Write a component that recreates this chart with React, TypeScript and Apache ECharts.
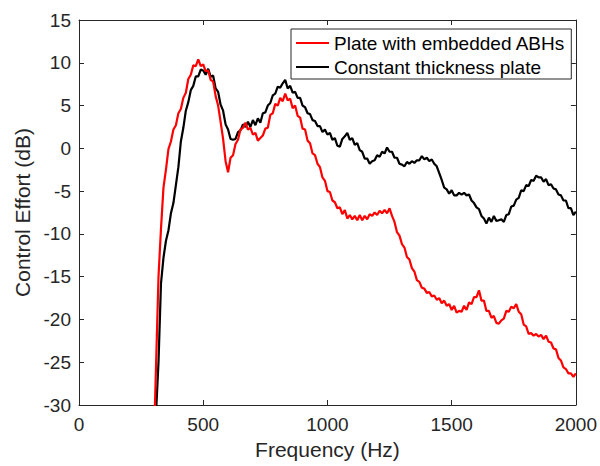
import React, { useEffect, useRef } from "react";
import * as echarts from "echarts";

const freqStart = 300;
const freqStep = 10;

// Control effort (dB), sampled every 10 Hz from 300 Hz to 2000 Hz
const abhPlate: number[] = [
  -36, -25.5, -15.0, -9.4, -4.6, -2.5, -0.1, 0.8, 2.2, 2.7,
  4.1, 4.6, 5.9, 6.5, 8.1, 8.6, 9.7, 9.6, 10.4, 9.6,
  9.8, 9.0, 9.1, 8.0, 7.8, 6.1, 5.0, 3.1, 1.1, -1.5,
  -2.8, -1.1, -0.8, 0.5, 1.0, 2.2, 2.4, 3.0, 2.2, 2.4,
  1.6, 1.8, 0.9, 1.2, 1.5, 2.3, 2.4, 3.9, 4.1, 5.2,
  5.0, 5.9, 5.5, 6.4, 5.6, 5.8, 4.7, 5.0, 3.8, 3.6,
  2.3, 2.2, 0.9, 0.6, -0.6, -0.8, -1.8, -2.2, -3.4, -3.8,
  -5.0, -5.1, -6.1, -6.3, -7.0, -6.9, -7.7, -7.2, -8.2, -7.8,
  -8.3, -7.9, -8.4, -7.8, -8.4, -7.9, -8.3, -7.7, -7.9, -7.5,
  -7.8, -7.3, -7.6, -7.2, -7.6, -7.0, -7.9, -8.6, -9.8, -10.2,
  -11.2, -11.6, -12.7, -13.0, -14.0, -14.4, -15.4, -15.6, -16.3, -16.4,
  -16.9, -16.8, -17.3, -17.2, -17.7, -17.5, -18.1, -17.8, -18.4, -18.2,
  -18.9, -18.4, -19.2, -19.0, -19.1, -18.4, -18.9, -18.0, -18.2, -17.4,
  -17.4, -16.6, -17.8, -17.8, -19.0, -19.0, -19.8, -19.6, -20.4, -20.5,
  -20.1, -19.9, -19.0, -19.1, -18.5, -18.7, -18.2, -19.1, -19.4, -20.6,
  -20.8, -21.7, -21.6, -21.9, -21.7, -22.0, -21.8, -22.3, -21.9, -22.6,
  -22.7, -23.4, -23.5, -24.5, -24.8, -25.6, -25.8, -26.3, -26.3, -26.7,
  -26.3,
];

const constantPlate: number[] = [
  -36, -31, -25, -15.8, -12.8, -10.8, -9.6, -7.6, -6.4, -4.3,
  -2.2, 0.8, 2.4, 4.4, 5.4, 6.8, 7.3, 8.4, 8.4, 9.2,
  9.1, 8.6, 9.3, 8.4, 8.5, 7.0, 6.6, 5.1, 4.4, 2.8,
  2.2, 1.1, 1.0, 1.1, 1.9, 2.1, 2.8, 2.5, 3.1, 2.5,
  3.3, 2.7, 3.5, 3.0, 4.1, 4.2, 5.0, 5.3, 6.2, 6.4,
  7.2, 7.1, 7.6, 8.0, 7.0, 7.3, 6.5, 6.6, 5.9, 5.9,
  5.0, 4.8, 4.1, 4.0, 3.3, 3.2, 2.6, 2.6, 1.9, 2.2,
  1.6, 1.8, 1.0, 1.2, 0.3, 0.2, 1.1, 1.4, 1.8, 1.0,
  1.2, 0.4, 0.6, -0.2, -0.4, -1.2, -1.2, -1.8, -1.5, -1.4,
  -0.8, -1.0, -0.4, -0.6, 0.1, -0.4, -0.4, -1.1, -1.1, -1.8,
  -1.9, -2.1, -1.6, -1.8, -1.5, -1.7, -1.4, -1.4, -0.9, -1.3,
  -1.1, -1.5, -1.3, -1.8, -2.1, -2.9, -3.7, -4.6, -4.8, -5.3,
  -4.9, -5.5, -5.5, -5.2, -5.4, -5.2, -5.5, -5.4, -6.1, -6.4,
  -6.9, -7.1, -7.9, -8.2, -8.8, -8.1, -8.6, -7.9, -8.5, -8.4,
  -8.3, -8.6, -7.8, -7.7, -6.8, -6.7, -6.0, -5.8, -4.9, -5.0,
  -4.3, -4.4, -3.7, -3.8, -3.2, -3.4, -3.4, -3.9, -3.6, -4.3,
  -4.2, -4.7, -4.8, -5.4, -5.5, -6.1, -6.1, -7.0, -7.0, -7.8,
  -7.4,
];

const seriesNames = ["Plate with embedded ABHs", "Constant thickness plate"];
const xTicks = { min: 0, max: 2000, interval: 500 };
const yTicks = { min: -30, max: 15, interval: 5 };

const FONT = "'Liberation Sans', Arial, Helvetica, sans-serif";
const AX = "#262626";

function toPairs(vals: number[]): [number, number][] {
  return vals.map((v, i) => [freqStart + i * freqStep, v]);
}

export default function App() {
  const ref = useRef<HTMLDivElement>(null);
  useEffect(() => {
    if (!ref.current) return;
    const chart = echarts.init(ref.current, undefined, { renderer: "svg" });
    const axisCommon = {
      axisLine: { show: true, onZero: false, lineStyle: { color: AX, width: 1 } },
      axisTick: { show: true, inside: true, length: 5, lineStyle: { color: AX } },
      splitLine: { show: false },
    };
    const plain = (v: number) => String(v);
    chart.setOption({
      animation: false,
      backgroundColor: "#ffffff",
      grid: { left: 79, right: 23, top: 20, bottom: 61, containLabel: false },
      legend: {
        data: seriesNames,
        orient: "vertical",
        left: 291,
        top: 29,
        padding: [3, 6, 1, 5],
        itemGap: 2,
        itemWidth: 33,
        itemHeight: 2,
        icon: "rect",
        backgroundColor: "#ffffff",
        borderColor: AX,
        borderWidth: 1,
        textStyle: { fontFamily: FONT, fontSize: 19, color: "#000", lineHeight: 22 },
      },
      xAxis: [
        {
          type: "value",
          ...xTicks,
          position: "bottom",
          ...axisCommon,
          axisLabel: { show: true, fontFamily: FONT, fontSize: 19, color: AX, margin: 10, formatter: plain },
          name: "Frequency (Hz)",
          nameLocation: "middle",
          nameGap: 32,
          nameTextStyle: { fontFamily: FONT, fontSize: 21, color: AX },
        },
        {
          type: "value",
          ...xTicks,
          position: "top",
          ...axisCommon,
          axisLabel: { show: false },
        },
      ],
      yAxis: [
        {
          type: "value",
          ...yTicks,
          position: "left",
          ...axisCommon,
          axisLabel: { show: true, fontFamily: FONT, fontSize: 19, color: AX, margin: 8, formatter: plain },
          name: "Control Effort (dB)",
          nameLocation: "middle",
          nameGap: 43,
          nameTextStyle: { fontFamily: FONT, fontSize: 21, color: AX },
        },
        {
          type: "value",
          ...yTicks,
          position: "right",
          ...axisCommon,
          axisLabel: { show: false },
        },
      ],
      series: [
        {
          name: seriesNames[1],
          type: "line",
          data: toPairs(constantPlate),
          showSymbol: false,
          symbol: "none",
          clip: true,
          z: 2,
          lineStyle: { color: "#000000", width: 2.2 },
          itemStyle: { color: "#000000" },
        },
        {
          name: seriesNames[0],
          type: "line",
          data: toPairs(abhPlate),
          showSymbol: false,
          symbol: "none",
          clip: true,
          z: 3,
          lineStyle: { color: "#ff0000", width: 2.2 },
          itemStyle: { color: "#ff0000" },
        },
      ],
    });
    return () => chart.dispose();
  }, []);
  return <div ref={ref} style={{ width: 600, height: 466, position: "absolute", left: 0, top: 0 }} />;
}
